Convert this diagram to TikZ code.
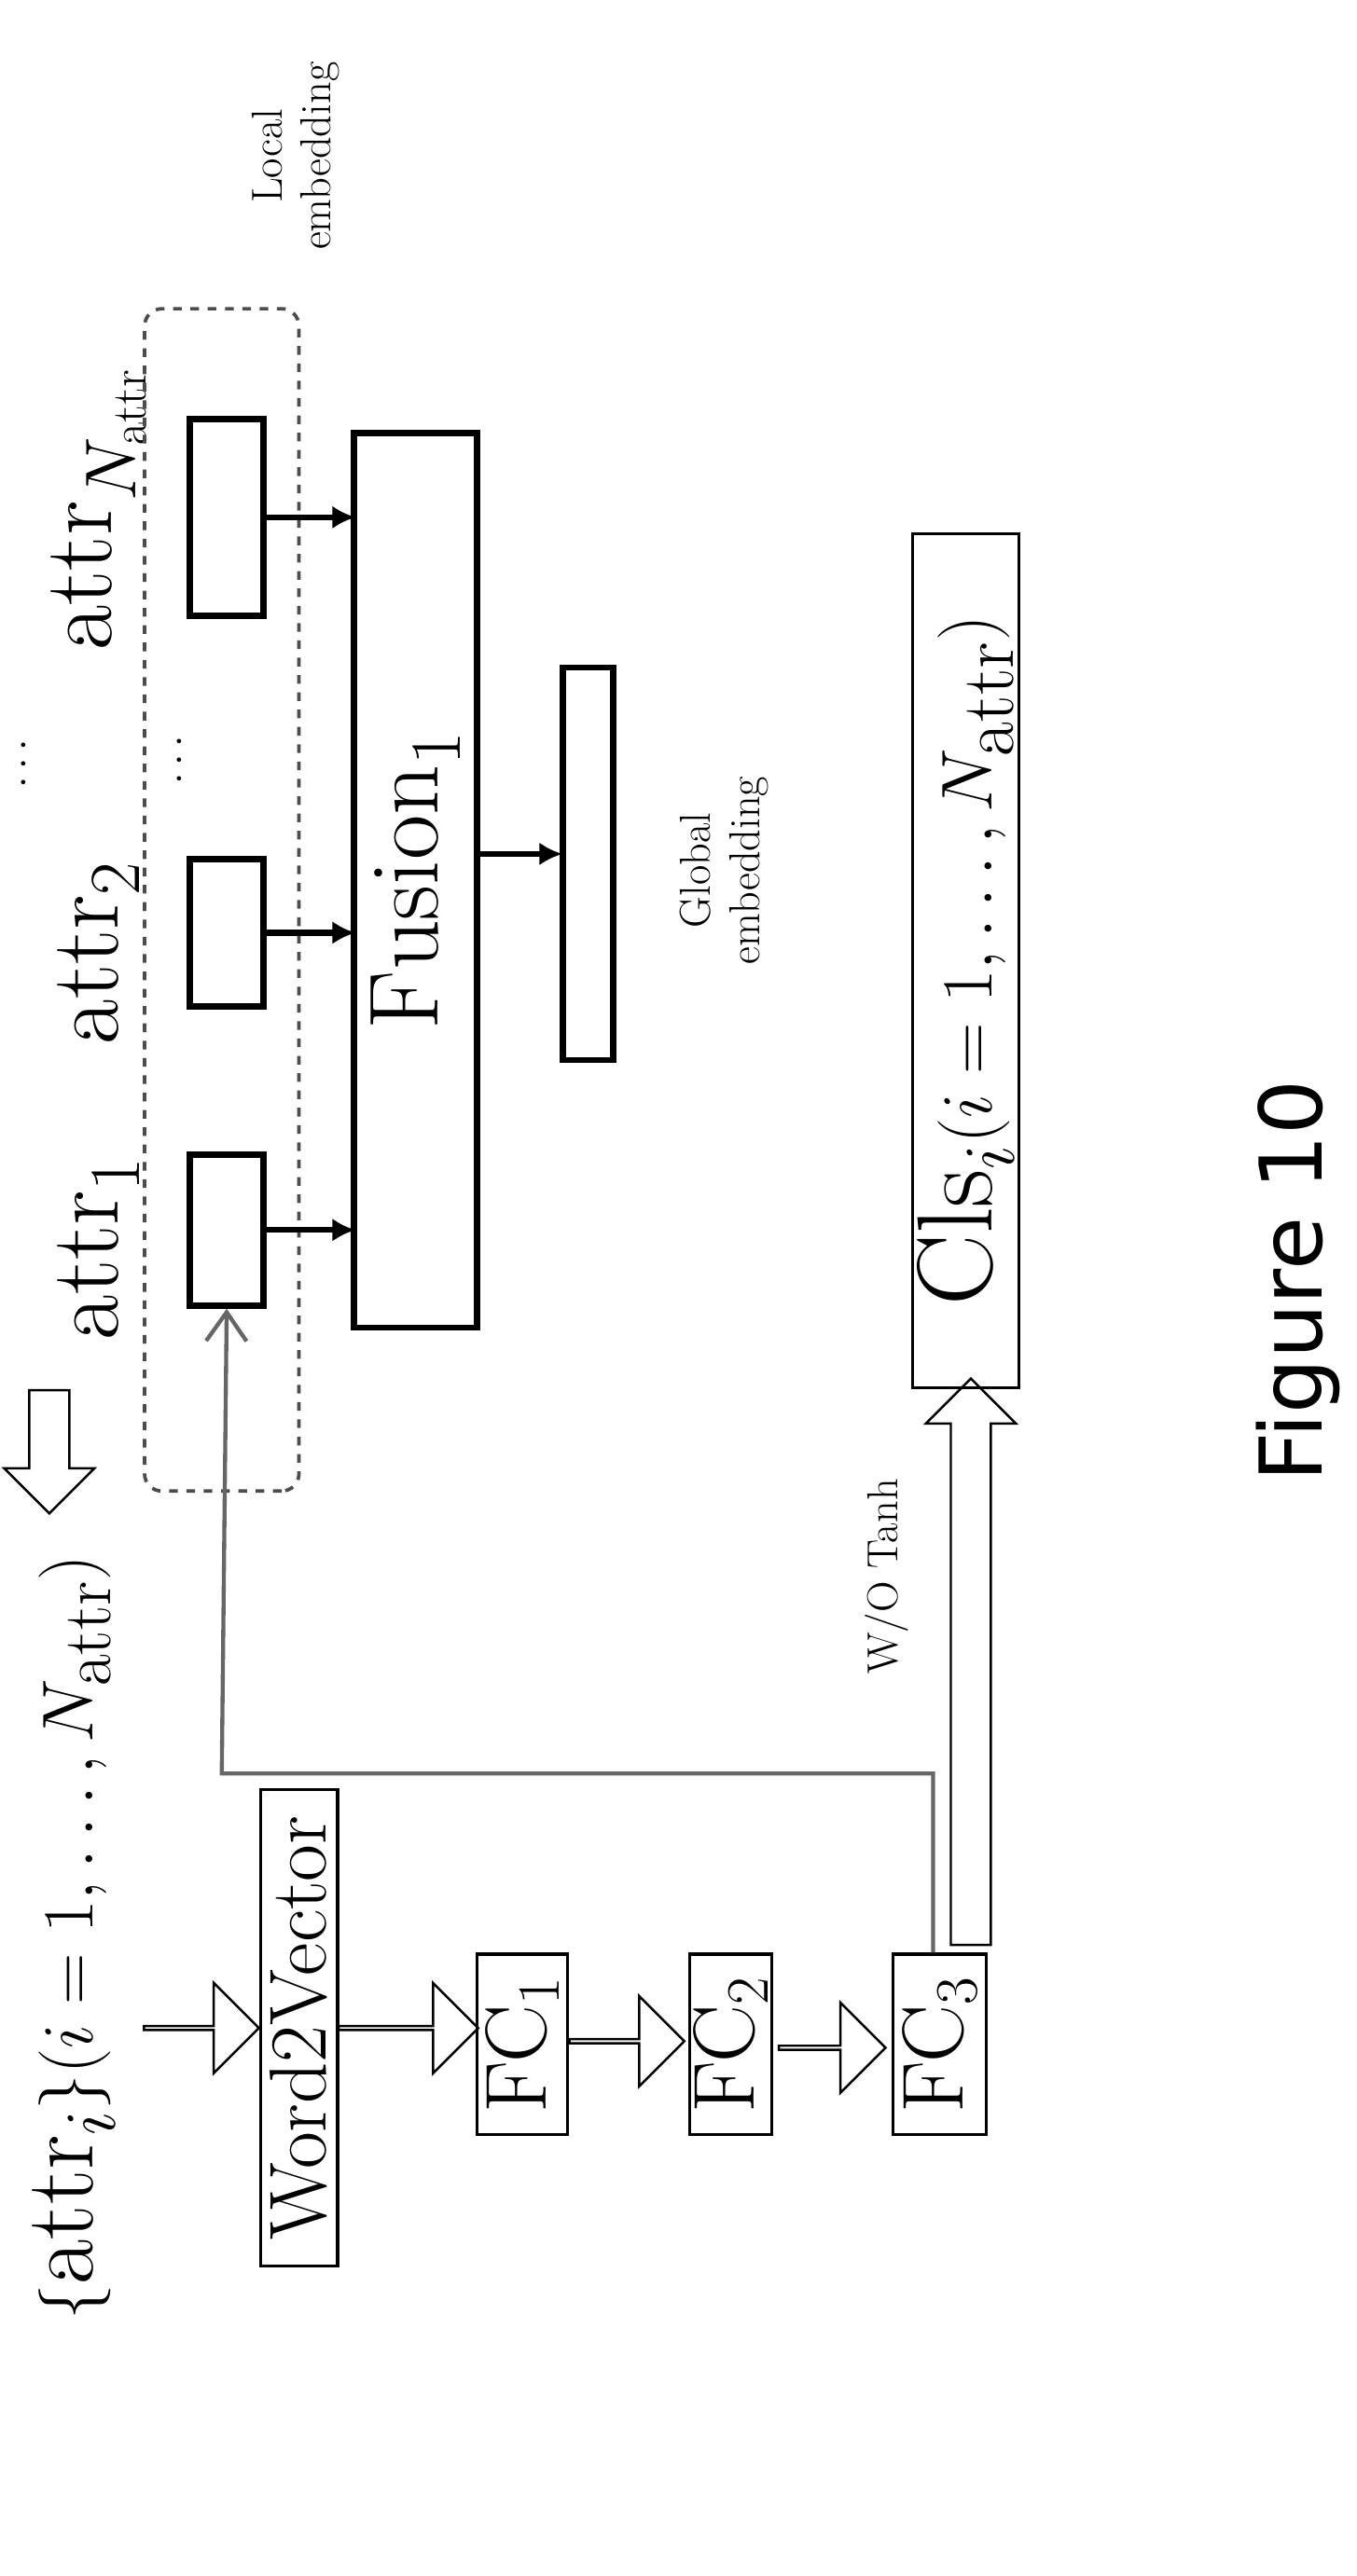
\documentclass[tikz,border=0pt]{standalone}
\usepackage{fontspec}
\newfontfamily\figfont{DejaVu Sans}
\usetikzlibrary{shapes.arrows,arrows.meta}

\tikzset{
    box/.style={draw, line width=2.2pt, inner sep=0pt},
    lbox/.style={draw, line width=1pt, inner sep=0pt},
    hollow/.style={single arrow, draw, line width=0.8pt, inner sep=0pt, minimum width=1.1cm, single arrow head extend=0.3cm},
    big/.style={font=\fontsize{34}{38}\selectfont},
    small/.style={font=\fontsize{15}{17}\selectfont, align=center}
}
\newcommand{\shaft}{\rule{0pt}{0.45cm}\hspace{0.45cm}}

\begin{document}
\begin{tikzpicture}
    \useasboundingbox (0,0) rectangle (16.52,-31.38);
    \begin{scope}[x=0.02cm, y=0.02cm, shift={(826,-1569)}, rotate=90, transform shape]
    % labels
    \node[big] (set) at (389,781) {$\{\mathrm{attr}_i\}(i=1,\ldots,N_{\mathrm{attr}})$};
    \node[big] (l1) at (809,766) {$\mathrm{attr}_1$};
    \node[big] (l2) at (989,766) {$\mathrm{attr}_2$};
    \node[big] (lN) at (1259,766) {$\mathrm{attr}_{N_{\mathrm{attr}}}$};
    \node[font=\Large] (d1) at (1104,811) {$\cdots$};
    \node[font=\Large] (d2) at (1106,716) {$\cdots$};

    % local embedding
    \node[box, minimum width=1.84cm, minimum height=0.9cm] (a1) at (820,688) {};
    \node[box, minimum width=1.8cm, minimum height=0.9cm] (a2) at (1001,688) {};
    \node[box, minimum width=2.4cm, minimum height=0.9cm] (aN) at (1254,688) {};
    \draw[dashed, rounded corners=6pt, line width=1.2pt, black!70] (661,644) rectangle (1381,738);
    \node[small] (loc) at (1474,646) {Local\\embedding};

    % fusion
    \node[box, minimum width=10.9cm, minimum height=1.5cm, big] (fus) at (1033,573) {$\mathrm{Fusion}_1$};
    \node[box, minimum width=4.78cm, minimum height=0.62cm] (glob) at (1043,468) {};
    \node[small] (gtxt) at (1039,385) {Global\\embedding};
    \foreach \n in {a1,a2,aN}
        \draw[line width=2pt, -{Latex[length=8pt,width=8pt]}] (\n.south) -- ++(0,-54);
    \draw[line width=2pt, -{Latex[length=8pt,width=8pt]}] (fus.south) ++(16,0) -- ++(0,-50);

    % word2vector branch
    \node[lbox, minimum width=5.8cm, minimum height=0.94cm, font=\fontsize{28}{30}\selectfont] (w2v) at (334,644) {Word2Vector};
    \node[lbox, minimum width=2.2cm, minimum height=1.1cm, font=\fontsize{30}{32}\selectfont] (fc1) at (324,508) {FC$_1$};
    \node[lbox, minimum width=2.2cm, minimum height=1.0cm, font=\fontsize{30}{32}\selectfont] (fc2) at (324,381) {FC$_2$};
    \node[lbox, minimum width=2.2cm, minimum height=1.14cm, font=\fontsize{30}{32}\selectfont] (fc3) at (324,254) {FC$_3$};
    \node[lbox, minimum width=10.4cm, minimum height=1.3cm, font=\fontsize{37}{40}\selectfont] (cls) at (984,238) {$\mathrm{Cls}_i(i=1,\ldots,N_{\mathrm{attr}})$};

    \node[hollow, minimum height=1.4cm, shape border rotate=270] (h0) at (334,704) {\shaft};
    \node[hollow, minimum height=1.7cm, shape border rotate=270] (h1) at (334,578) {\shaft};
    \node[hollow, minimum height=1.4cm, shape border rotate=270] (h2) at (326,445) {\shaft};
    \node[hollow, minimum height=1.3cm, shape border rotate=270] (h3) at (322,320) {\shaft};
    \node[hollow, minimum height=1.5cm, shape border rotate=180] (hd) at (691,796) {\shaft};
    \node[hollow, minimum height=6.9cm] (hc) at (551,235) {\shaft};
    \node[small] (tanh) at (609,286) {W/O Tanh};

    \coordinate (c1) at (489,258);
    \coordinate (c2) at (489,691);
    \draw[line width=1.4pt, black!60, -{Straight Barb[length=10pt,width=14pt]}] (fc3.east |- c1) -- (c1) -- (c2) -- (a1.west);

    \node[font=\figfont\fontsize{30}{32}\selectfont] (fig) at (789,36) {Figure 10};
    \end{scope}
\end{tikzpicture}
\end{document}
